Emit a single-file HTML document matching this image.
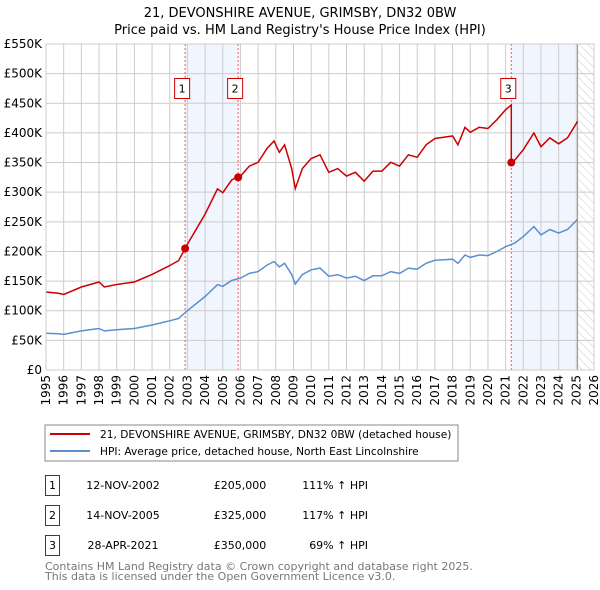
<!DOCTYPE html>
<html><head><meta charset="utf-8"><style>
body{margin:0;background:#fff;}
svg{display:block;font-family:"DejaVu Sans","Liberation Sans",sans-serif;}
</style></head><body>
<svg id="c" width="600" height="590" viewBox="0 0 600 590" xmlns="http://www.w3.org/2000/svg">
<defs><pattern id="hatch" width="6" height="6" patternUnits="userSpaceOnUse" patternTransform="rotate(-45)"><line x1="0" y1="0" x2="0" y2="6" stroke="#ccc" stroke-width="1"/></pattern></defs>
<text x="300" y="17" text-anchor="middle" font-size="13" fill="#000">21, DEVONSHIRE AVENUE, GRIMSBY, DN32 0BW</text>
<text x="300" y="34" text-anchor="middle" font-size="13" fill="#000">Price paid vs. HM Land Registry's House Price Index (HPI)</text>
<g id="plot"></g>
<rect x="45" y="425" width="413" height="36" fill="#fff" stroke="#888"/>
<line x1="50" y1="434" x2="90" y2="434" stroke="#cc0000" stroke-width="2"/>
<text x="100" y="438" font-size="10.6">21, DEVONSHIRE AVENUE, GRIMSBY, DN32 0BW (detached house)</text>
<line x1="50" y1="451" x2="90" y2="451" stroke="#5b8fd0" stroke-width="2"/>
<text x="100" y="455" font-size="10.6">HPI: Average price, detached house, North East Lincolnshire</text>
<g id="table" font-size="11"></g>
<text x="45" y="570" font-size="11" fill="#777">Contains HM Land Registry data © Crown copyright and database right 2025.</text>
<text x="45" y="580" font-size="11" fill="#777">This data is licensed under the Open Government Licence v3.0.</text>
</svg>
<script>
const hpiYears=[1995,1995.7,1996,1997,1998,1998.3,1999,2000,2001,2002,2002.5,2003,2004,2004.7,2005,2005.5,2006,2006.5,2007,2007.5,2007.9,2008.2,2008.5,2008.9,2009.1,2009.5,2010,2010.5,2011,2011.5,2012,2012.5,2013,2013.5,2014,2014.5,2015,2015.5,2016,2016.5,2017,2017.5,2018,2018.3,2018.7,2019,2019.5,2020,2020.5,2021,2021.5,2022,2022.6,2023,2023.5,2024,2024.5,2025.07];
const hpiValues=[62,61,60,66,70,66,68,70,76,83,87,100,124,144,141,151,155,163,166,177,183,174,180,161,145,161,169,172,158,161,155,158,151,159,159,166,163,172,170,180,185,186,187,180,194,190,194,193,200,208,214,225,242,228,237,231,237,254];
const saleLabels=["1","2","3"];
const saleDates=["12-NOV-2002","14-NOV-2005","28-APR-2021"];
const saleYears=[2002.87,2005.87,2021.32];
const salePrices=[205000,325000,350000];
const salePriceText=["£205,000","£325,000","£350,000"];
const salePctText=["111% ↑ HPI","117% ↑ HPI","69% ↑ HPI"];
const yTicks=[0,50,100,150,200,250,300,350,400,450,500,550];
const xTicks=[1995,1996,1997,1998,1999,2000,2001,2002,2003,2004,2005,2006,2007,2008,2009,2010,2011,2012,2013,2014,2015,2016,2017,2018,2019,2020,2021,2022,2023,2024,2025,2026];

const L=46,R=594,T=44,B=370;
const X=y=>L+(y-1995)*(R-L)/31;
const Y=v=>B-v*(B-T)/550;
const NS="http://www.w3.org/2000/svg";
const g=document.getElementById('plot');
function mk(tag,attrs,parent){const e=document.createElementNS(NS,tag);for(const k in attrs)e.setAttribute(k,attrs[k]);(parent||g).appendChild(e);return e;}
function hpiAt(t){for(let i=0;i<hpiYears.length-1;i++){if(t<=hpiYears[i+1]){const f=(t-hpiYears[i])/(hpiYears[i+1]-hpiYears[i]);return hpiValues[i]+f*(hpiValues[i+1]-hpiValues[i]);}}return hpiValues[hpiValues.length-1];}
const endYear=hpiYears[hpiYears.length-1];
let e=mk('rect',{x:X(saleYears[0]),y:T,width:X(saleYears[1])-X(saleYears[0]),height:B-T,fill:'#f1f5fd'});


e=mk('rect',{x:X(saleYears[2]),y:T,width:X(endYear)-X(saleYears[2]),height:B-T,fill:'#f1f5fd'});


e=mk('rect',{x:X(endYear),y:T,width:R-X(endYear),height:B-T,fill:'url(#hatch)'});


yTicks.forEach(v=>{const l=mk('line',{x1:L,x2:R,y1:Y(v),y2:Y(v),stroke:'#ccc','stroke-width':1});


const t=mk('text',{x:L-4,y:Y(v)+4,'text-anchor':'end','font-size':12});t.textContent=v===0?'£0':'£'+v+'K';

});
xTicks.forEach(yr=>{const l=mk('line',{x1:X(yr),x2:X(yr),y1:T,y2:B,stroke:'#ccc','stroke-width':1});


const t=mk('text',{x:0,y:0,'text-anchor':'end','font-size':12,transform:`translate(${X(yr)+4},${B+5}) rotate(-90)`});t.textContent=yr;

});
e=mk('line',{x1:X(endYear),x2:X(endYear),y1:T,y2:B,stroke:'#999','stroke-width':1});


saleYears.forEach((sy,i)=>{const l=mk('line',{x1:X(sy),x2:X(sy),y1:T,y2:B,stroke:'#e55','stroke-width':1,'stroke-dasharray':'2,2'});

});
let d=hpiYears.map((t,i)=>(i?'L':'M')+X(t).toFixed(1)+','+Y(hpiValues[i]).toFixed(1)).join('');
e=mk('path',{d:d,fill:'none',stroke:'#5b8fd0','stroke-width':1.5});


function factor(t){let k=0;for(let i=0;i<saleYears.length;i++)if(t>=saleYears[i])k=i;return salePrices[k]/1000/hpiAt(saleYears[k]);}
const ts=hpiYears.concat(saleYears).concat(saleYears.map(s=>s-0.001)).sort((a,b)=>a-b);
d=ts.map((t,i)=>{const f=t===saleYears[2]-0.001?factor(saleYears[1]):factor(t);return (i?'L':'M')+X(t).toFixed(1)+','+Y(hpiAt(t)*f).toFixed(1);}).join('');
e=mk('path',{d:d,fill:'none',stroke:'#cc0000','stroke-width':1.5});


saleYears.forEach((sy,i)=>{const c=mk('circle',{cx:X(sy),cy:Y(salePrices[i]/1000),r:4,fill:'#cc0000'});


const cx=X(sy)-3;
const r=mk('rect',{x:cx-7.5,y:78.5,width:15,height:20,fill:'#fff',stroke:'#cc0000'});


const t=mk('text',{x:cx,y:92.5,'text-anchor':'middle','font-size':11});t.textContent=saleLabels[i];

});
mk('rect',{x:L,y:T,width:R-L,height:B-T,fill:'none',stroke:'#ccc'});
const tb=document.getElementById('table');
saleLabels.forEach((lb,i)=>{const y0=475+i*30;
let r=mk('rect',{x:45.5,y:y0+0.5,width:14,height:20,fill:'#fff',stroke:'#cc0000'},tb);


let t=mk('text',{x:52.5,y:y0+14,'text-anchor':'middle'},tb);t.textContent=lb;


t=mk('text',{x:123,y:y0+14,'text-anchor':'middle'},tb);t.textContent=saleDates[i];


t=mk('text',{x:240,y:y0+14,'text-anchor':'middle'},tb);t.textContent=salePriceText[i];


t=mk('text',{x:368,y:y0+14,'text-anchor':'end'},tb);t.textContent=salePctText[i];

});
</script>
</body></html>
